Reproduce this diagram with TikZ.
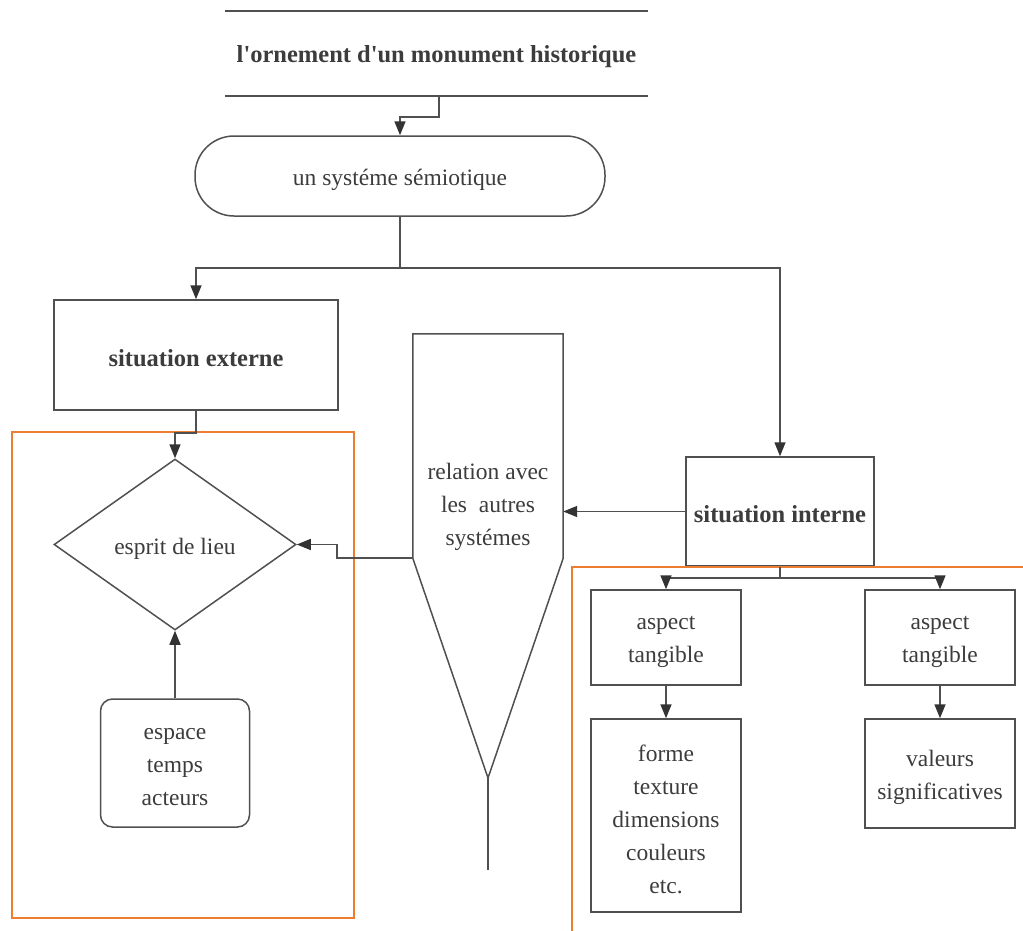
\documentclass[tikz,border=0pt]{standalone}
\usepackage{fontspec}
\setmainfont{Liberation Serif}
\usetikzlibrary{shapes.geometric,arrows.meta}
\definecolor{ink}{HTML}{505050}
\definecolor{tipink}{HTML}{333333}
\definecolor{txt}{HTML}{3C3C3C}
\definecolor{frame}{HTML}{ED7D31}
\begin{document}
\begin{tikzpicture}[x=1pt,y=-1pt,
  every node/.style={text=txt,font=\fontsize{23.5}{33}\selectfont,align=center,inner sep=0pt},
  every label/.style={text=txt,align=center,inner sep=0pt},
  say/.style={label={[yshift=-4pt]center:{#1}}},
  saybold/.style={label={[yshift=-3pt,font=\fontsize{24.5}{33}\selectfont\bfseries]center:{#1}}},
  line/.style={draw=ink,line width=1.5pt},
  arr/.style={line,-{Triangle[width=11pt,length=14pt,color=tipink]}},
  boxnode/.style={line,rectangle},
  region/.style={draw=frame,line width=2pt}]
\useasboundingbox (0,0) rectangle (1023,930);

% title between two rules
\node[saybold={l\textquotesingle ornement d\textquotesingle un monument historique},minimum width=423pt,minimum height=85pt] (title) at (436.5,53.5) {};
\draw[line] (title.north west) -- (title.north east);
\draw[line] (title.south west) -- (title.south east);

% semiotic system
\node[line,rounded corners=39pt,minimum width=410pt,minimum height=80pt,say={un systéme sémiotique}] (sys) at (400,176) {};
\draw[arr] ([xshift=2.5pt]title.south) -- ++(0,21) -| (sys.north);

% external / internal situations
\node[boxnode,saybold={situation externe},minimum width=284pt,minimum height=110pt] (ext) at (196,355) {};
\node[boxnode,saybold={situation interne},minimum width=188pt,minimum height=109pt] (int) at (780,511.5) {};
\draw[line] (sys.south) -- ++(0,51) coordinate (split);
\draw[arr] (split) -| (ext.north);
\draw[arr] (split) -| (int.north);

% left group
\draw[region] (12,432) rectangle (354,918);
\node[line,diamond,minimum width=242pt,minimum height=171pt,say={esprit de lieu}] (lieu) at (175,544.5) {};
\node[line,rounded corners=12pt,minimum width=149pt,minimum height=128pt,say={espace\\temps\\acteurs}] (esp) at (175,763) {};
\draw[arr] (ext.south) -- ++(0,22) -| (lieu.north);
\draw[arr] (esp.north) -- (lieu.south);

% relation with the other systems (pointed shape)
\node[minimum width=150pt,minimum height=224pt] (relbox) at (488,446) {};
\coordinate (tip) at (488,778);
\coordinate (stem) at (488,870);
\draw[line] (relbox.north west) -- (relbox.north east) -- (relbox.south east) -- (tip) -- (relbox.south west) -- cycle;
\draw[line] (tip) -- (stem);
\node[say={relation avec\\les~ autres\\systémes}] (rel) at (488,503) {};
\draw[arr] (int.west) -- (int.west -| relbox.east);
\draw[arr] (relbox.south west) -- ++(-76,0) |- (lieu.east);

% right group
\draw[region] (1030,567) -- (572,567) -- (572,935);
\node[boxnode,minimum width=150pt,minimum height=95pt,say={aspect\\tangible}] (asp1) at (666,637.5) {};
\node[boxnode,minimum width=150pt,minimum height=95pt,say={aspect\\tangible}] (asp2) at (940,637.5) {};
\node[boxnode,minimum width=150pt,minimum height=193pt,say={forme\\texture\\dimensions\\couleurs\\etc.}] (forme) at (666,815.5) {};
\node[boxnode,minimum width=150pt,minimum height=109pt,say={valeurs\\significatives}] (val) at (940,773.5) {};
\draw[line] (int.south) -- ++(0,11) coordinate (fork);
\draw[arr] (fork) -| (asp1.north);
\draw[arr] (fork) -| (asp2.north);
\draw[arr] (asp1.south) -- (forme.north);
\draw[arr] (asp2.south) -- (val.north);
\end{tikzpicture}
\end{document}
